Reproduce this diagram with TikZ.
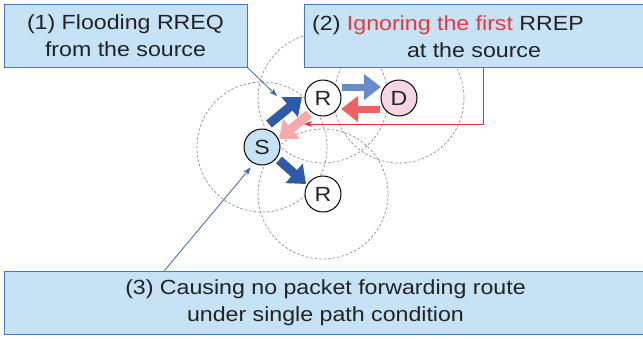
\documentclass[tikz,border=0pt]{standalone}
\usepackage{fontspec}
\setmainfont{Liberation Sans}[FakeStretch=1.13]
\usetikzlibrary{arrows.meta,calc}
\definecolor{boxfill}{HTML}{C6E2F5}
\definecolor{boxline}{HTML}{4A76BC}
\definecolor{txt}{HTML}{222222}
\definecolor{redtxt}{HTML}{E8383D}
\definecolor{darkblue}{HTML}{2E5BA8}
\definecolor{midblue}{HTML}{6A8BC9}
\definecolor{redarrow}{HTML}{EF6264}
\definecolor{pinkarrow}{HTML}{F6A9AA}
\definecolor{nodeS}{HTML}{C6E2F5}
\definecolor{nodeD}{HTML}{F6D6E6}
\definecolor{rangegray}{HTML}{8A8A8A}
\definecolor{linkblue}{HTML}{3A64B2}
\definecolor{linkred}{HTML}{E8303A}
\begin{document}
\begin{tikzpicture}[x=1pt,y=-1pt,
  infobox/.style={draw=boxline, line width=1pt, fill=boxfill, inner sep=0pt, text=txt, align=center, font=\fontsize{20.5}{27}\selectfont},
  boxtext/.style={inner sep=0pt, text=txt, font=\fontsize{20.5}{27}\selectfont},
  host/.style={circle, draw=black, line width=1pt, minimum size=36pt, inner sep=0pt, font=\fontsize{20.5}{24}\selectfont, text=txt},
  radiorange/.style={draw=rangegray, line width=0.7pt, dash pattern=on 2.5pt off 2pt},
  fatarrow/.style={line width=9pt, -{Triangle[length=16pt,width=25pt]}},
  thinarrow/.style={line width=7pt, -{Triangle[length=17pt,width=25pt]}},
  link/.style={line width=0.8pt, -{Stealth[length=8pt,width=6pt]}}
]
\useasboundingbox (0,0) rectangle (643,338);
% radio ranges
\draw[radiorange] (262,147) circle (65);
\draw[radiorange] (323,98) circle (65);
\draw[radiorange] (399,98) circle (65);
\draw[radiorange] (323,194) circle (65);
% boxes
\node[infobox, minimum width=243pt, minimum height=63pt] (box1) at (125.5,35.5) {(1) Flooding RREQ\\from the source};
\node[infobox, minimum width=344pt, minimum height=63pt] (box2) at (476,35.5) {};
\node[boxtext, anchor=base west] (t2a) at (312,30) {(2) \textcolor{redtxt}{Ignoring the first} RREP};
\node[boxtext, anchor=base] (t2b) at (474,57) {at the source};
\node[infobox, minimum width=643pt, minimum height=63pt] (box3) at (325.5,302.5) {(3) Causing no packet forwarding route\\under single path condition};
% hosts
\node[host, fill=nodeS] (S) at (262,147) {S};
\node[host, fill=white] (R1) at (323,98) {R};
\node[host, fill=nodeD] (D) at (399,98) {D};
\node[host, fill=white] (R2) at (323,194) {R};
% block arrows
\coordinate (a1s) at (269,124); \coordinate (a1e) at (302,97);
\coordinate (a2s) at (279,160); \coordinate (a2e) at (306,184);
\coordinate (a3s) at (309,114); \coordinate (a3e) at (279,139);
\coordinate (a4s) at (342,87);  \coordinate (a4e) at (381,87);
\coordinate (a5s) at (380,109); \coordinate (a5e) at (341,109);
\draw[darkblue, fatarrow] (a1s) -- (a1e);
\draw[darkblue, fatarrow] (a2s) -- (a2e);
\draw[pinkarrow, fatarrow] (a3s) -- (a3e);
\draw[midblue, thinarrow] (a4s) -- (a4e);
\draw[redarrow, thinarrow] (a5s) -- (a5e);
% callout links
\coordinate (c1) at (277,96);
\coordinate (c2) at (304,124);
\draw[linkblue, link] (box1.south east) -- (c1);
\draw[linkred, link] ([xshift=180pt]box2.south west) |- (c2);
\draw[linkblue, link] ([xshift=161pt]box3.north west) -- ($(S)!1.27!(S.241)$);
\end{tikzpicture}
\end{document}
